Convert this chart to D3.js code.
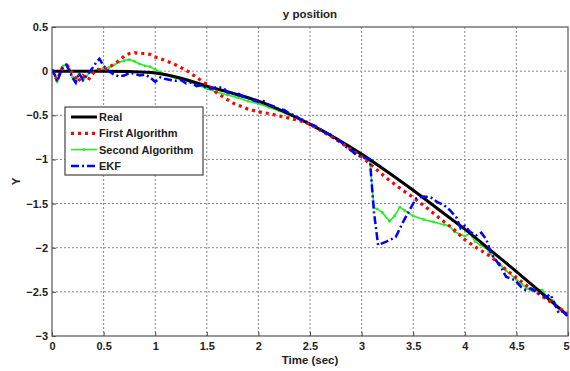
<!DOCTYPE html>
<html>
<head>
<meta charset="utf-8">
<script src="https://cdn.jsdelivr.net/npm/d3@7"></script>
<style>
  body { margin: 0; background: #fff; }
  text { font-family: "Liberation Sans", Arial, sans-serif; font-weight: bold; fill: #222; }
</style>
</head>
<body>
<div id="chart"></div>
<script>
// values: [time (sec), y]
const real = [[0,0],[0.25,0],[0.5,0],[0.75,-0.005],[1,-0.02],[1.25,-0.08],[1.5,-0.17],[1.75,-0.25],
  [2,-0.34],[2.25,-0.46],[2.5,-0.6],[2.75,-0.76],[3,-0.94],[3.25,-1.14],[3.5,-1.35],[3.75,-1.57],
  [4,-1.79],[4.25,-2.03],[4.5,-2.27],[4.75,-2.52],[5,-2.77]];

const firstAlg = [[0,0],[0.05,-0.1],[0.1,0.04],[0.15,0.06],[0.2,-0.03],[0.25,-0.12],[0.3,-0.05],
  [0.35,-0.1],[0.4,-0.02],[0.45,0.02],[0.5,0.01],[0.55,0.04],[0.6,0.08],[0.65,0.12],[0.7,0.17],
  [0.75,0.2],[0.8,0.21],[0.85,0.2],[0.9,0.2],[0.95,0.19],[1,0.16],[1.1,0.12],[1.2,0.07],[1.3,0.01],
  [1.4,-0.07],[1.5,-0.15],[1.6,-0.25],[1.75,-0.36],[1.9,-0.43],[2,-0.46],[2.1,-0.48],[2.25,-0.52],
  [2.4,-0.56],[2.5,-0.6],[2.6,-0.67],[2.75,-0.77],[2.9,-0.89],[3,-0.97],[3.1,-1.07],[3.25,-1.22],
  [3.4,-1.35],[3.5,-1.43],[3.6,-1.52],[3.75,-1.66],[3.9,-1.8],[4,-1.91],[4.1,-1.99],[4.25,-2.1],
  [4.4,-2.25],[4.5,-2.34],[4.6,-2.43],[4.75,-2.55],[4.9,-2.67],[5,-2.75]];

const secondAlg = [[0,0.01],[0.03,-0.06],[0.05,-0.12],[0.08,-0.03],[0.11,0.06],[0.14,0.08],[0.17,0.02],
  [0.2,-0.07],[0.23,-0.13],[0.26,-0.03],[0.3,-0.11],[0.33,-0.06],[0.37,-0.01],[0.4,0],[0.45,0.02],
  [0.5,0.03],[0.55,0.04],[0.6,0.07],[0.65,0.1],[0.7,0.12],[0.75,0.13],[0.8,0.11],[0.85,0.08],
  [0.9,0.06],[0.95,0.05],[1,0.02],[1.05,-0.01],[1.1,-0.04],[1.2,-0.08],[1.3,-0.11],[1.4,-0.15],
  [1.5,-0.2],[1.6,-0.24],[1.7,-0.27],[1.8,-0.3],[1.9,-0.34],[2,-0.37],[2.1,-0.41],[2.2,-0.45],
  [2.3,-0.5],[2.4,-0.55],[2.5,-0.61],[2.6,-0.67],[2.7,-0.73],[2.8,-0.8],[2.9,-0.88],[3,-0.96],
  [3.08,-1.02],[3.12,-1.55],[3.15,-1.56],[3.2,-1.6],[3.27,-1.7],[3.32,-1.64],[3.37,-1.54],
  [3.42,-1.58],[3.5,-1.64],[3.6,-1.68],[3.7,-1.71],[3.8,-1.74],[3.85,-1.75],[3.9,-1.82],[4,-1.87],
  [4.05,-1.84],[4.1,-1.93],[4.15,-1.97],[4.2,-2],[4.25,-2.07],[4.3,-2.14],[4.35,-2.2],[4.4,-2.26],
  [4.5,-2.36],[4.55,-2.41],[4.6,-2.46],[4.65,-2.49],[4.7,-2.47],[4.75,-2.48],[4.8,-2.56],[4.85,-2.6],
  [4.9,-2.68],[4.95,-2.72],[5,-2.76]];

const ekf = [[0,0.02],[0.03,-0.05],[0.05,-0.12],[0.08,-0.02],[0.11,0.05],[0.14,0.07],[0.17,0],
  [0.2,-0.08],[0.23,-0.13],[0.26,-0.02],[0.3,-0.1],[0.33,-0.06],[0.37,0],[0.4,0.05],[0.43,0.1],
  [0.46,0.14],[0.5,0.06],[0.55,0],[0.6,-0.04],[0.65,-0.06],[0.7,-0.05],[0.75,-0.02],[0.8,-0.03],
  [0.85,-0.05],[0.9,-0.04],[0.95,-0.07],[1,-0.12],[1.05,-0.07],[1.1,-0.09],[1.15,-0.1],[1.2,-0.11],
  [1.25,-0.1],[1.3,-0.14],[1.35,-0.13],[1.4,-0.17],[1.45,-0.16],[1.5,-0.19],[1.55,-0.2],[1.6,-0.18],
  [1.66,-0.19],[1.7,-0.24],[1.75,-0.26],[1.8,-0.25],[1.85,-0.29],[1.9,-0.3],[1.95,-0.33],[2,-0.35],
  [2.05,-0.34],[2.1,-0.38],[2.15,-0.4],[2.2,-0.43],[2.25,-0.44],[2.3,-0.48],[2.35,-0.5],[2.4,-0.54],
  [2.45,-0.56],[2.5,-0.6],[2.55,-0.62],[2.6,-0.66],[2.65,-0.7],[2.7,-0.72],[2.75,-0.78],[2.8,-0.8],
  [2.85,-0.86],[2.9,-0.9],[2.95,-0.95],[3,-0.97],[3.08,-1],[3.12,-1.6],[3.16,-1.97],[3.24,-1.93],
  [3.33,-1.88],[3.41,-1.69],[3.49,-1.52],[3.53,-1.44],[3.6,-1.42],[3.67,-1.43],[3.73,-1.48],
  [3.8,-1.52],[3.86,-1.58],[3.92,-1.66],[3.96,-1.78],[4,-1.75],[4.05,-1.82],[4.11,-1.86],[4.16,-1.83],
  [4.21,-1.91],[4.25,-2.05],[4.3,-2.14],[4.35,-2.22],[4.4,-2.33],[4.45,-2.35],[4.49,-2.37],
  [4.55,-2.45],[4.59,-2.48],[4.64,-2.46],[4.69,-2.5],[4.74,-2.52],[4.78,-2.56],[4.83,-2.53],
  [4.87,-2.63],[4.91,-2.74],[4.95,-2.72],[5,-2.78]];

const xTicks = [0, 0.5, 1, 1.5, 2, 2.5, 3, 3.5, 4, 4.5, 5];
const yTicks = [0.5, 0, -0.5, -1, -1.5, -2, -2.5, -3];
const legendNames = ["Real", "First Algorithm", "Second Algorithm", "EKF"];

const width = 570, height = 371;
const margin = { top: 27, right: 2, bottom: 35, left: 52 };

const svg = d3.select("#chart").append("svg")
    .attr("width", width)
    .attr("height", height);

const x = d3.scaleLinear().domain([0, 5]).range([margin.left, width - margin.right]);
const y = d3.scaleLinear().domain([-3, 0.5]).range([height - margin.bottom, margin.top]);

// grid
svg.append("g").selectAll("line").data(xTicks.slice(1, -1)).enter().append("line")
    .attr("x1", d => x(d)).attr("x2", d => x(d))
    .attr("y1", y(0.5)).attr("y2", y(-3))
    .attr("stroke", "#888").attr("stroke-width", 1).attr("stroke-dasharray", "2,2");
svg.append("g").selectAll("line").data(yTicks.slice(1, -1)).enter().append("line")
    .attr("y1", d => y(d)).attr("y2", d => y(d))
    .attr("x1", x(0)).attr("x2", x(5))
    .attr("stroke", "#888").attr("stroke-width", 1).attr("stroke-dasharray", "2,2");

// axes
const xAxis = svg.append("g")
    .attr("transform", "translate(0," + y(-3) + ")")
    .call(d3.axisBottom(x).tickValues(xTicks).tickFormat(d3.format("")).tickSizeInner(-4).tickSizeOuter(0).tickPadding(8));
const yAxis = svg.append("g")
    .attr("transform", "translate(" + x(0) + ",0)")
    .call(d3.axisLeft(y).tickValues(yTicks).tickFormat(d3.format("")).tickSizeInner(-4).tickSizeOuter(0).tickPadding(4));
[xAxis, yAxis].forEach(a => {
    a.selectAll("path").remove();
    a.selectAll("line").attr("stroke", "#444");
    a.selectAll("text").attr("font-size", 11).style("font-family", "Liberation Sans, Arial, sans-serif")
        .style("font-weight", "bold").attr("fill", "#222");
});
xAxis.selectAll("text").attr("dy", "0.55em");
// keep the last label inside the window
xAxis.selectAll("text").filter(d => d === 5).attr("text-anchor", "end").attr("dx", "0.1em");

// series
const line = d3.line().x(d => x(d[0])).y(d => y(d[1]));
svg.append("clipPath").attr("id", "clip").append("rect")
    .attr("x", x(0)).attr("y", y(0.5)).attr("width", x(5) - x(0)).attr("height", y(-3) - y(0.5));
const plot = svg.append("g").attr("clip-path", "url(#clip)");

plot.append("path").datum(secondAlg).attr("d", line)
    .attr("fill", "none").attr("stroke", "#22ee22").attr("stroke-width", 1.6);
plot.append("g").selectAll("circle").data(secondAlg).enter().append("circle")
    .attr("cx", d => x(d[0])).attr("cy", d => y(d[1])).attr("r", 1.4).attr("fill", "#22ee22");
plot.append("path").datum(real).attr("d", line.curve(d3.curveMonotoneX))
    .attr("fill", "none").attr("stroke", "#000").attr("stroke-width", 3);
line.curve(d3.curveLinear);
plot.append("path").datum(firstAlg).attr("d", line)
    .attr("fill", "none").attr("stroke", "#ff0000").attr("stroke-width", 3.2)
    .attr("stroke-dasharray", "3,4");
plot.append("path").datum(ekf).attr("d", line)
    .attr("fill", "none").attr("stroke", "#0000ff").attr("stroke-width", 2.5)
    .attr("stroke-dasharray", "8,3,2,3");

// box
svg.append("rect")
    .attr("x", x(0)).attr("y", y(0.5)).attr("width", x(5) - x(0)).attr("height", y(-3) - y(0.5))
    .attr("fill", "none").attr("stroke", "#555").attr("stroke-width", 1.2);

// titles
svg.append("text").attr("x", (x(0) + x(5)) / 2).attr("y", 18).attr("text-anchor", "middle")
    .attr("font-size", 11.5).text("y position");
svg.append("text").attr("x", (x(0) + x(5)) / 2).attr("y", 364).attr("text-anchor", "middle")
    .attr("font-size", 11.5).text("Time (sec)");
svg.append("text").attr("transform", "translate(20," + ((y(0.5) + y(-3)) / 2) + ") rotate(-90)")
    .attr("text-anchor", "middle").attr("font-size", 11.5).text("Y");

// legend
const lg = svg.append("g").attr("transform", "translate(65,107)");
lg.append("rect").attr("width", 138).attr("height", 68)
    .attr("fill", "#fff").attr("stroke", "#444").attr("stroke-width", 1.2);
const styles = [
    { stroke: "#000", w: 3, dash: null },
    { stroke: "#ff0000", w: 3.2, dash: "3,4" },
    { stroke: "#22ee22", w: 1.6, dash: null },
    { stroke: "#0000ff", w: 2.5, dash: "8,3,2,3" }
];
legendNames.forEach((name, i) => {
    const yy = 10 + i * 16.3;
    lg.append("line").attr("x1", 6).attr("x2", 32).attr("y1", yy).attr("y2", yy)
        .attr("stroke", styles[i].stroke).attr("stroke-width", styles[i].w)
        .attr("stroke-dasharray", styles[i].dash);
    if (i === 2) lg.append("circle").attr("cx", 19).attr("cy", yy).attr("r", 1.4).attr("fill", "#22ee22");
    lg.append("text").attr("x", 34).attr("y", yy + 4).attr("font-size", 11).text(name);
});
</script>
</body>
</html>
